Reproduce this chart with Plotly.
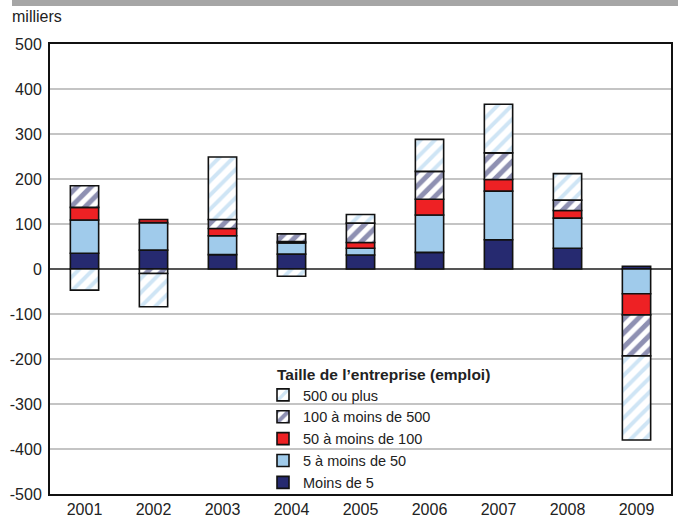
import plotly.graph_objects as go

years = ["2001", "2002", "2003", "2004", "2005", "2006", "2007", "2008", "2009"]
moins5 = [35, 42, 32, 33, 31, 37, 65, 46, 6]
de5a50 = [74, 61, 42, 25, 15, 83, 108, 67, -55]
de50a100 = [28, 7, 16, 3, 13, 35, 26, 17, -47]
de100a500 = [48, -10, 20, 17, 43, 62, 59, 23, -91]
plus500 = [-47, -74, 139, -16, 19, 71, 108, 59, -187]

names = ["Moins de 5", "5 à moins de 50", "50 à moins de 100", "100 à moins de 500", "500 ou plus"]
series = [moins5, de5a50, de50a100, de100a500, plus500]

ytickvals = [-500, -400, -300, -200, -100, 0, 100, 200, 300, 400, 500]
yticktext = ["-500", "-400", "-300", "-200", "-100", "0", "100", "200", "300", "400", "500"]

NAVY = "#262a70"
LBLUE = "#a0cbeb"
RED = "#ee2124"

styles = [
    dict(color=NAVY),
    dict(color=LBLUE),
    dict(color=RED),
    dict(color="white", pattern=dict(shape="/", fgcolor="#1e2266", bgcolor="white", size=10, solidity=0.5)),
    dict(color="white", pattern=dict(shape="/", fgcolor=LBLUE, bgcolor="white", size=10, solidity=0.4)),
]

fig = go.Figure()
for name, vals, st in zip(names, series, styles):
    marker = dict(line=dict(color="#111111", width=1.6), **st)
    fig.add_trace(go.Bar(x=years, y=vals, name=name, marker=marker, width=0.41))

W, H = 678, 517
L, R, T, B = 50, 7, 44, 23
pw, ph = W - L - R, H - T - B

def px2x(px):
    return (px - L) / pw

def px2y(py):
    return (H - B - py) / ph

fig.update_layout(
    width=W, height=H,
    margin=dict(l=L, r=R, t=T, b=B),
    barmode="relative",
    plot_bgcolor="white", paper_bgcolor="white",
    font=dict(family="Liberation Sans, Arial", size=16, color="#222222"),
    showlegend=True,
    legend=dict(
        traceorder="reversed",
        x=px2x(263), y=px2y(379), xanchor="left", yanchor="top",
        bgcolor="rgba(0,0,0,0)",
        font=dict(size=14.5),
        itemwidth=30, tracegroupgap=0,
    ),
    xaxis=dict(
        showgrid=False, showline=True, linecolor="#111111", linewidth=2, mirror=True,
        ticks="", tickfont=dict(size=16), automargin=False,
    ),
    yaxis=dict(
        range=[-500, 500], tickvals=ytickvals, ticktext=yticktext,
        showgrid=True, gridcolor="#c4c4c4", gridwidth=1.5,
        zeroline=True, zerolinecolor="#555555", zerolinewidth=1.5,
        showline=True, linecolor="#111111", linewidth=2, mirror=True,
        ticks="", tickfont=dict(size=16), ticklabelstandoff=3, automargin=False,
    ),
    shapes=[
        dict(type="rect", xref="paper", yref="paper",
             x0=px2x(12), x1=px2x(680), y0=px2y(6), y1=px2y(0),
             fillcolor="#a6a6a6", line=dict(width=0)),
    ],
    annotations=[
        dict(text="milliers", xref="paper", yref="paper", x=px2x(10), y=px2y(17),
             xanchor="left", yanchor="middle", showarrow=False,
             font=dict(size=16)),
        dict(text="<b>Taille de l’entreprise (emploi)</b>", xref="paper", yref="paper",
             x=px2x(275), y=px2y(374), xanchor="left", yanchor="middle", showarrow=False,
             font=dict(size=15.5)),
    ],
)

fig.write_html("out.html", config={"displayModeBar": False},
               post_script="document.body.style.margin='0';document.body.style.overflow='hidden';")
